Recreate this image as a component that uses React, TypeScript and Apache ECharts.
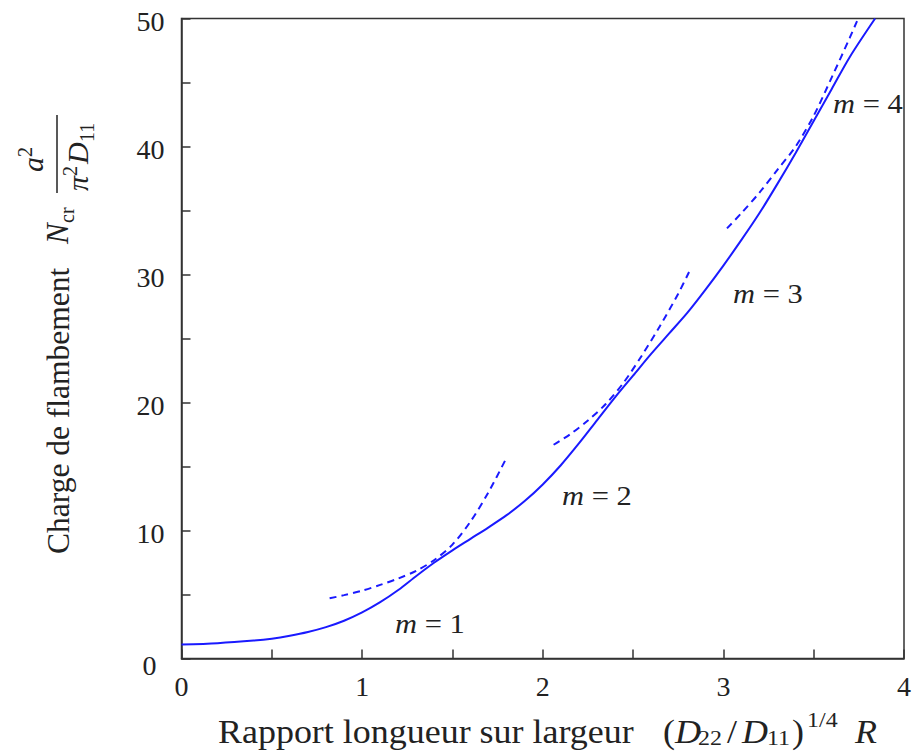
import React, { useEffect, useRef } from "react";
import * as echarts from "echarts";

// ---- data ----
const xTickValues = [0, 1, 2, 3, 4];
const yTickValues = [0, 10, 20, 30, 40, 50];

const solidX = [0, 0.2, 0.4, 0.5, 0.6, 0.7, 0.8, 0.9, 1.0, 1.1, 1.2, 1.3, 1.4, 1.5, 1.6, 1.7, 1.8, 1.9, 2.0, 2.1, 2.2, 2.3, 2.4, 2.5, 2.6, 2.7, 2.8, 2.9, 3.0, 3.1, 3.2, 3.3, 3.4, 3.5, 3.6, 3.7, 3.84];
const solidY = [1.09, 1.2, 1.4, 1.55, 1.78, 2.07, 2.45, 2.95, 3.6, 4.4, 5.35, 6.45, 7.5, 8.45, 9.35, 10.25, 11.2, 12.3, 13.6, 15.1, 16.8, 18.6, 20.4, 22.1, 23.8, 25.4, 27.0, 28.8, 30.7, 32.7, 34.8, 37.1, 39.5, 42.0, 44.5, 47.0, 50];

const m1X = [0.82, 0.9, 1.0, 1.1, 1.2, 1.3, 1.4, 1.5, 1.6, 1.7, 1.8];
const m1Y = [4.7, 4.95, 5.3, 5.75, 6.25, 6.85, 7.7, 8.9, 10.7, 13.0, 15.7];

const m2X = [2.06, 2.15, 2.25, 2.35, 2.45, 2.55, 2.65, 2.75, 2.81];
const m2Y = [16.7, 17.5, 18.6, 19.9, 21.6, 23.7, 26.0, 28.5, 30.2];

const m3X = [3.02, 3.1, 3.2, 3.3, 3.4, 3.5, 3.6, 3.7, 3.74];
const m3Y = [33.6, 34.8, 36.4, 38.2, 40.0, 42.4, 45.4, 48.5, 49.8];

const modeNumbers = ["1", "2", "3", "4"];

const FONT = "Liberation Serif, Times New Roman, serif";
const BLUE = "#1a1aff";
const INK = "#222222";
const AXIS = "#333333";
const SX = 1.09; // horizontal stretch of reference text

const pairs = (xs: number[], ys: number[]) => xs.map((x, i) => [x, ys[i]]);
const mid = (baseline: number, fs: number) => baseline - 0.3375 * fs;

function txt(x: number, baseline: number, text: string, fs: number, italic = false) {
  return {
    type: "text",
    x,
    y: mid(baseline, fs),
    scaleX: SX,
    silent: true,
    style: {
      text,
      fontSize: fs,
      fontFamily: FONT,
      fontStyle: italic ? "italic" : "normal",
      fill: INK,
      align: "left",
      verticalAlign: "middle",
    },
  };
}

function rtxt(lx: number, baseline: number, text: string, fs: number, italic = false) {
  return {
    type: "text",
    x: lx,
    y: mid(baseline, fs),
    silent: true,
    style: {
      text,
      fontSize: fs,
      fontFamily: FONT,
      fontStyle: italic ? "italic" : "normal",
      fill: INK,
      align: "left",
      verticalAlign: "middle",
    },
  };
}

export default function App() {
  const ref = useRef<HTMLDivElement>(null);

  useEffect(() => {
    const chart = echarts.init(ref.current!, null, { renderer: "svg" });

    const modeLabelPos = [
      [395, 633],
      [562, 505],
      [733, 303],
      [833, 113],
    ];

    const modeLabels = modeNumbers.map((n, i) => ({
      type: "text",
      x: modeLabelPos[i][0],
      y: mid(modeLabelPos[i][1], 28),
      scaleX: SX,
      silent: true,
      style: {
        text: "{i|m} = " + n,
        fontSize: 28,
        fontFamily: FONT,
        fill: INK,
        align: "left",
        verticalAlign: "middle",
        rich: {
          i: { fontSize: 28, fontFamily: FONT, fontStyle: "italic", fill: INK },
        },
      },
    }));

    // x axis title pieces
    const xTitle = [
      txt(218, 743, "Rapport longueur sur largeur", 33),
      txt(663, 743, "(", 33),
      txt(675, 743, "D", 33, true),
      txt(698, 745, "22", 22),
      txt(727, 743, "/", 33),
      txt(742, 743, "D", 33, true),
      txt(767, 745, "11", 22),
      txt(792, 743, ")", 33),
      txt(807, 727, "1/4", 22),
      txt(855, 743, "R", 33, true),
    ];

    // y axis title (rotated group): local lx = 600 - screenY, ly = screenX
    const yTitle = {
      type: "group",
      x: 0,
      y: 600,
      rotation: Math.PI / 2,
      silent: true,
      children: [
        rtxt(46, 69, "Charge de flambement", 31.5),
        rtxt(356, 68, "N", 31, true),
        rtxt(377, 74, "cr", 20),
        {
          type: "line",
          shape: { x1: 407, y1: 57, x2: 485, y2: 57 },
          style: { stroke: INK, lineWidth: 1.5 },
        },
        rtxt(428, 43, "a", 30, true),
        rtxt(443, 32, "2", 20),
        rtxt(409, 88, "π", 30, true),
        rtxt(424, 77, "2", 20),
        rtxt(436, 88, "D", 30, true),
        rtxt(458, 94, "11", 20),
      ],
    };

    const option: any = {
      animation: false,
      backgroundColor: "#ffffff",
      grid: {
        left: 181.5,
        top: 18.5,
        width: 722.5,
        height: 640,
        show: true,
        borderColor: AXIS,
        borderWidth: 1.5,
        backgroundColor: "transparent",
        containLabel: false,
      },
      xAxis: {
        type: "value",
        min: 0,
        max: 4,
        interval: 0.5,
        axisLine: { show: true, lineStyle: { color: AXIS, width: 1.5 } },
        axisTick: { show: true, inside: true, length: 9, lineStyle: { color: AXIS, width: 1.5 } },
        axisLabel: {
          formatter: (v: number) => (xTickValues.includes(v) ? String(v) : ""),
          fontFamily: FONT,
          fontSize: 28,
          color: INK,
          margin: 14,
        },
        splitLine: { show: false },
      },
      yAxis: {
        type: "value",
        min: 0,
        max: 50,
        interval: 5,
        axisLine: { show: true, lineStyle: { color: AXIS, width: 1.5 } },
        axisTick: { show: true, inside: true, length: 9, lineStyle: { color: AXIS, width: 1.5 } },
        axisLabel: {
          formatter: (v: number) =>
            yTickValues.includes(v) ? (v === 0 ? "{z|0}" : "{n|" + v + "}") : "",
          fontFamily: FONT,
          fontSize: 28,
          color: INK,
          margin: 17,
          padding: [6, 0, 0, 0],
          rich: {
            z: { fontFamily: FONT, fontSize: 28, color: INK, padding: [8, 8, 0, 0] },
            n: { fontFamily: FONT, fontSize: 28, color: INK },
          },
        },
        splitLine: { show: false },
      },
      series: [
        {
          type: "line",
          data: pairs(solidX, solidY),
          symbol: "none",
          smooth: 0.3,
          lineStyle: { color: BLUE, width: 2 },
          z: 3,
        },
        {
          type: "line",
          data: pairs(m1X, m1Y),
          symbol: "none",
          smooth: 0.3,
          lineStyle: { color: BLUE, width: 2, type: [7, 5] },
        },
        {
          type: "line",
          data: pairs(m2X, m2Y),
          symbol: "none",
          smooth: 0.3,
          lineStyle: { color: BLUE, width: 2, type: [7, 5] },
        },
        {
          type: "line",
          data: pairs(m3X, m3Y),
          symbol: "none",
          smooth: 0.3,
          lineStyle: { color: BLUE, width: 2, type: [7, 5] },
        },
      ],
      graphic: [...modeLabels, ...xTitle, yTitle],
    };

    chart.setOption(option);
    return () => chart.dispose();
  }, []);

  return (
    <div
      ref={ref}
      style={{ position: "fixed", left: 0, top: 0, width: 914, height: 751, background: "#fff" }}
    />
  );
}
